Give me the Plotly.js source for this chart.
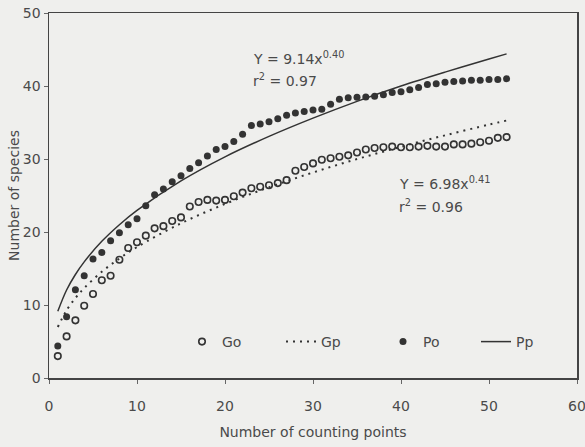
<!DOCTYPE html>
<html>
<head>
<meta charset="utf-8">
<script src="https://cdn.plot.ly/plotly-3.0.1.min.js"></script>
<style>html,body{margin:0;padding:0;background:#efefed;}#chart{width:585px;height:447px;}</style>
</head>
<body>
<div id="chart"></div>
<script>
// Counting points (x) for observed series
const points = [1,2,3,4,5,6,7,8,9,10,11,12,13,14,15,16,17,18,19,20,21,22,23,24,25,26,
  27,28,29,30,31,32,33,34,35,36,37,38,39,40,41,42,43,44,45,46,47,48,49,50,51,52];
// Go: open circles
const goValues = [3.0,5.7,7.9,9.9,11.5,13.4,14.0,16.2,17.8,18.6,19.5,20.5,20.8,21.5,22.0,23.5,24.1,24.4,24.3,24.4,
  24.9,25.4,26.0,26.2,26.4,26.7,27.1,28.4,28.9,29.4,29.9,30.1,30.3,30.5,30.9,31.3,31.5,31.6,31.7,31.6,
  31.6,31.7,31.8,31.7,31.7,32.0,32.0,32.1,32.3,32.5,32.9,33.0];
// Po: filled circles
const poValues = [4.4,8.4,12.1,14.0,16.3,17.2,18.8,19.9,21.0,21.8,23.6,25.1,25.9,26.9,27.7,28.7,29.5,30.4,31.3,31.7,
  32.4,33.4,34.6,34.8,35.1,35.5,36.0,36.3,36.5,36.7,36.8,37.5,38.2,38.4,38.45,38.5,38.6,38.8,39.1,39.2,
  39.5,39.8,40.2,40.3,40.5,40.6,40.7,40.8,40.8,40.9,40.9,41.0];
// Fitted curves
const fitX = [1,2,3,4,6,8,10,15,20,25,30,35,40,45,50,52];
const gpValues = [6.98,9.27,10.95,12.32,14.55,16.37,17.94,21.19,23.84,26.12,28.15,29.99,31.67,33.24,34.71,35.27];
const ppValues = [9.14,12.06,14.18,15.91,18.72,21.0,22.96,27.0,30.3,33.1,35.6,37.9,40.0,41.9,43.7,44.4];
const seriesNames = ['Go','Gp','Po','Pp'];
const xTicks = [0,10,20,30,40,50,60];
const yTicks = [0,10,20,30,40,50];

const FONT = 'DejaVu Sans, sans-serif';
const TXT = '#4a4a4a';
const INK = '#333333';

const traces = [
  {x: points, y: goValues, name: seriesNames[0], type:'scatter', mode:'markers', legend:'legend',
   marker:{symbol:'circle-open', size:6.5, color:INK, line:{width:1.6, color:INK}}},
  {x: fitX, y: gpValues, name: seriesNames[1], type:'scatter', mode:'lines', legend:'legend2',
   line:{shape:'spline', color:INK, width:2, dash:'2px,5px'}},
  {x: points, y: poValues, name: seriesNames[2], type:'scatter', mode:'markers', legend:'legend3',
   marker:{symbol:'circle', size:7, color:INK}},
  {x: fitX, y: ppValues, name: seriesNames[3], type:'scatter', mode:'lines', legend:'legend4',
   line:{shape:'spline', color:INK, width:1.5}}
];

const L = 49, R = 8, T = 13, B = 69;
const W = 585 - L - R, H = 447 - T - B;
function px2paperX(p){ return (p - L)/W; }
function px2paperY(p){ return (447 - B - p)/H; }

function legendAt(px){
  return {x: px2paperX(px), y: px2paperY(342), xanchor:'left', yanchor:'middle',
    bgcolor:'rgba(0,0,0,0)', borderwidth:0, orientation:'h',
    font:{family:FONT, size:14, color:TXT}};
}

const layout = {
  width:585, height:447,
  margin:{l:L, r:R, t:T, b:B},
  paper_bgcolor:'#efefed', plot_bgcolor:'#efefed',
  showlegend:true,
  legend: legendAt(182),
  legend2: legendAt(281),
  legend3: legendAt(383),
  legend4: legendAt(476),
  xaxis:{range:[0,60], tickvals:xTicks, ticktext:xTicks.map(String), showgrid:false, zeroline:false,
    showline:true, linecolor:'#444', linewidth:1.5, mirror:true, ticks:'outside', ticklen:4, tickcolor:'#666',
    tickfont:{family:FONT, size:14, color:TXT}, ticklabelstandoff:11, ticklabeloverflow:'allow',
    title:{text:'Number of counting points', font:{family:FONT, size:14, color:TXT}, standoff:14}},
  yaxis:{range:[0,50], tickvals:yTicks, ticktext:yTicks.map(String), showgrid:false, zeroline:false,
    showline:true, linecolor:'#444', linewidth:1.5, mirror:true, ticks:'outside', ticklen:4, tickcolor:'#666',
    tickfont:{family:FONT, size:14, color:TXT}, ticklabeloverflow:'allow',
    title:{text:'Number of species', font:{family:FONT, size:14, color:TXT}, standoff:0}},
  annotations:[
    {x:23.0, y:43.8, xref:'x', yref:'y', xanchor:'left', yanchor:'middle', showarrow:false,
     text:'Y = 9.14x<sup>0.40</sup>', font:{family:FONT, size:14, color:TXT}},
    {x:23.0, y:40.8, xref:'x', yref:'y', xanchor:'left', yanchor:'middle', showarrow:false,
     text:'r<sup>2</sup> = 0.97', font:{family:FONT, size:14, color:TXT}},
    {x:39.6, y:26.7, xref:'x', yref:'y', xanchor:'left', yanchor:'middle', showarrow:false,
     text:'Y = 6.98x<sup>0.41</sup>', font:{family:FONT, size:14, color:TXT}},
    {x:39.6, y:23.5, xref:'x', yref:'y', xanchor:'left', yanchor:'middle', showarrow:false,
     text:'r<sup>2</sup> = 0.96', font:{family:FONT, size:14, color:TXT}}
  ]
};

Plotly.newPlot('chart', traces, layout, {displayModeBar:false, staticPlot:true});
</script>
</body>
</html>
